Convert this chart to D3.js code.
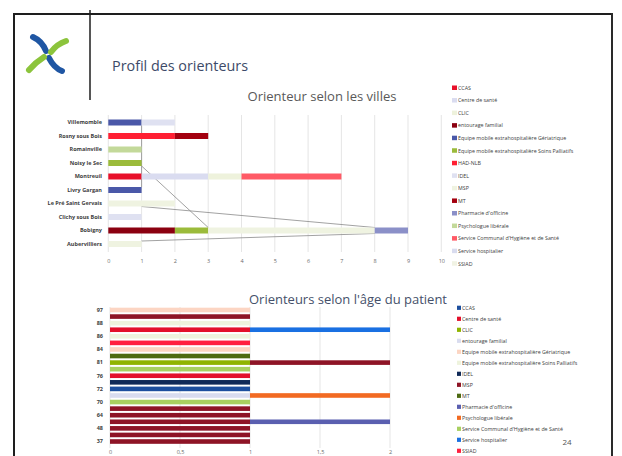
<!DOCTYPE html>
<html><head><meta charset="utf-8">
<script src="https://cdn.jsdelivr.net/npm/d3@7"></script>
<style>body{margin:0;background:#fff}svg{display:block}text{font-family:"Open Sans","Noto Sans",sans-serif}</style>
</head><body><svg id="c" width="622" height="456"></svg>
<script>
// ---------- DATA ----------
const pageTitle = "Profil des orienteurs";
const title1 = "Orienteur selon les villes";
const title2 = "Orienteurs selon l'âge du patient";
const pageNumber = "24";

const cities = ["Villemomble","Rosny sous Bois","Romainville","Noisy le Sec","Montreuil","Livry Gargan","Le Pré Saint Gervais","Clichy sous Bois","Bobigny","Aubervilliers"];
const series1 = ["CCAS","Centre de santé","CLIC","entourage familial","Equipe mobile extrahospitalière Gériatrique","Equipe mobile extrahospitalière Soins Palliatifs","HAD-NLB","IDEL","MSP","MT","Pharmacie d'officine","Psychologue libérale","Service Communal d'Hygiène et de Santé","Service hospitalier","SSIAD"];
const colors1 = ["#e8102a","#dadcf0","#eef2dc","#8b0010","#4a58a8","#9bbb3b","#ff1f33","#dfe1f1","#eff3e1","#a3000f","#8b90c8","#c3d99a","#ff5a66","#d9dcef","#f1f3e4"];
// values per series, in city order (top to bottom)
const vCCAS1      = [0,0,0,0,1,0,0,0,0,0];
const vCentre1    = [0,0,0,0,2,0,0,0,0,0];
const vCLIC1      = [0,0,0,0,1,0,0,0,0,0];
const vEntourage1 = [0,0,0,0,0,0,0,0,2,0];
const vEMG1       = [1,0,0,0,0,1,0,0,0,0];
const vEMSP1      = [0,0,0,1,0,0,0,0,1,0];
const vHAD1       = [0,2,0,0,0,0,0,0,0,0];
const vIDEL1      = [1,0,0,0,0,0,0,1,0,0];
const vMSP1       = [0,0,0,0,0,0,2,0,5,1];
const vMT1        = [0,1,0,0,0,0,0,0,0,0];
const vPharma1    = [0,0,0,0,0,0,0,0,1,0];
const vPsy1       = [0,0,1,0,0,0,0,0,0,0];
const vSCHS1      = [0,0,0,0,3,0,0,0,0,0];
const vHosp1      = [0,0,0,0,0,0,0,0,0,0];
const vSSIAD1     = [0,0,0,0,0,0,0,0,0,0];
const values1 = [vCCAS1,vCentre1,vCLIC1,vEntourage1,vEMG1,vEMSP1,vHAD1,vIDEL1,vMSP1,vMT1,vPharma1,vPsy1,vSCHS1,vHosp1,vSSIAD1];
const ticks1 = [0,1,2,3,4,5,6,7,8,9,10];
// series lines seen on the chart: [from city, value, to city, value]
const seriesLines1 = [
  ["Aubervilliers",1,"Bobigny",8],
  ["Bobigny",3,"Noisy le Sec",1],
  ["Bobigny",8,"Le Pré Saint Gervais",1],
  ["Livry Gargan",1,"Villemomble",1]
];

const ages = ["97","92","88","87","86","85","84","83","81","79","76","74","72","71","70","68","64","55","48","42","37"];
const agesLabelled = ["97","88","86","84","81","76","72","70","64","48","37"];
const series2 = ["CCAS","Centre de santé","CLIC","entourage familial","Equipe mobile extrahospitalière Gériatrique","Equipe mobile extrahospitalière Soins Palliatifs","IDEL","MSP","MT","Pharmacie d'officine","Psychologue libérale","Service Communal d'Hygiène et de Santé","Service hospitalier","SSIAD"];
const colors2 = ["#1d4f9e","#e3102b","#8fb400","#d9dcef","#fcd5c3","#eef3dd","#102a58","#8e1426","#4d6a12","#5a5fb0","#f26a22","#a8d060","#1a70e2","#ff2040"];
// values per series, in age order (top to bottom)
const vCCAS2      = [0,0,0,0,0,0,0,0,0,0,0,0,1,0,0,0,0,0,0,0,0];
const vCentre2    = [0,0,0,1,0,0,0,0,0,0,1,0,0,0,0,0,0,0,0,0,0];
const vCLIC2      = [0,0,0,0,0,0,0,0,1,0,0,0,0,0,0,0,0,0,0,0,0];
const vEntourage2 = [0,0,0,0,0,0,0,0,0,0,0,0,0,1,0,0,0,0,0,0,0];
const vEMG2       = [1,0,0,0,0,0,1,0,0,0,0,0,0,0,0,0,0,0,0,0,0];
const vEMSP2      = [0,0,1,0,1,0,0,0,0,0,0,0,0,0,0,0,0,0,0,0,0];
const vIDEL2      = [0,0,0,0,0,0,0,0,0,0,0,1,0,0,0,0,0,0,0,0,0];
const vMSP2       = [0,1,0,0,0,0,0,0,1,0,0,0,0,0,0,1,1,1,1,1,1];
const vMT2        = [0,0,0,0,0,0,0,1,0,0,0,0,0,0,0,0,0,0,0,0,0];
const vPharma2    = [0,0,0,0,0,0,0,0,0,0,0,0,0,0,0,0,0,1,0,0,0];
const vPsy2       = [0,0,0,0,0,0,0,0,0,0,0,0,0,1,0,0,0,0,0,0,0];
const vSCHS2      = [0,0,0,0,0,0,0,0,0,1,0,0,0,0,1,0,0,0,0,0,0];
const vHosp2      = [0,0,0,1,0,0,0,0,0,0,0,0,0,0,0,0,0,0,0,0,0];
const vSSIAD2     = [0,0,0,0,0,1,0,0,0,0,0,0,0,0,0,0,0,0,0,0,0];
const values2 = [vCCAS2,vCentre2,vCLIC2,vEntourage2,vEMG2,vEMSP2,vIDEL2,vMSP2,vMT2,vPharma2,vPsy2,vSCHS2,vHosp2,vSSIAD2];
const ticks2 = [0,0.5,1,1.5,2];

// ---------- DRAW ----------
const svg = d3.select("#c");
const frFmt = d3.formatLocale({decimal:",",thousands:" ",grouping:[3],currency:["","€"]}).format("~g");

// frame
svg.append("line").attr("x1",14).attr("x2",613).attr("y1",14).attr("y2",14).attr("stroke","#1e1e1e").attr("stroke-width",2);
svg.append("line").attr("x1",14).attr("x2",14).attr("y1",13).attr("y2",456).attr("stroke","#1e1e1e").attr("stroke-width",2);
svg.append("line").attr("x1",612).attr("x2",612).attr("y1",13).attr("y2",456).attr("stroke","#2a2a2a").attr("stroke-width",2);
svg.append("line").attr("x1",90).attr("x2",90).attr("y1",10).attr("y2",100).attr("stroke","#1e1e1e").attr("stroke-width",1.5);

// logo
const logo = svg.append("g").attr("stroke-linecap","round").attr("fill","none");
logo.append("path").attr("d","M33,37 Q42,41 46,51").attr("stroke","#1f56a3").attr("stroke-width",6);
logo.append("path").attr("d","M49,58 Q54,68 62,71").attr("stroke","#1f56a3").attr("stroke-width",6);
logo.append("path").attr("d","M66,41 Q57,44 51,52").attr("stroke","#8cc43c").attr("stroke-width",6);
logo.append("path").attr("d","M44,57 Q36,62 29,70").attr("stroke","#8cc43c").attr("stroke-width",6);

svg.append("text").attr("x",112).attr("y",71).attr("font-size",14).attr("fill","#3d4a68")
  .attr("textLength",136).attr("lengthAdjust","spacingAndGlyphs").text(pageTitle);

// ---------- Chart 1 ----------
const x1 = d3.scaleLinear().domain([0,10]).range([108.3,441.3]);
const y1 = d3.scaleBand().domain(cities).range([115.75,250.75]);
const bh1 = 6;
svg.append("text").attr("x",322).attr("y",101).attr("text-anchor","middle").attr("font-size",13).attr("fill","#595959")
  .attr("textLength",149).attr("lengthAdjust","spacingAndGlyphs").text(title1);

svg.append("g").selectAll("line").data(ticks1).join("line")
  .attr("x1",d=>x1(d)).attr("x2",d=>x1(d)).attr("y1",115).attr("y2",252).attr("stroke","#dedede").attr("stroke-width",0.8);

const yc1 = c => y1(c)+y1.bandwidth()/2;
svg.append("g").selectAll("line").data(seriesLines1).join("line")
  .attr("x1",d=>x1(d[1])).attr("x2",d=>x1(d[3]))
  .attr("y1",d=>yc1(d[0]) + (yc1(d[0])>yc1(d[2])? -bh1/2 : bh1/2))
  .attr("y2",d=>yc1(d[2]) + (yc1(d[0])>yc1(d[2])? bh1/2 : -bh1/2))
  .attr("stroke","#8a8a8a").attr("stroke-width",0.8);

const rows1 = cities.map((c,i)=>{const o={city:c}; series1.forEach((s,k)=>o[s]=values1[k][i]); return o;});
const stack1 = d3.stack().keys(series1)(rows1);
svg.append("g").selectAll("g").data(stack1).join("g").attr("fill",(d,i)=>colors1[i])
  .selectAll("rect").data(d=>d.filter(p=>p[1]>p[0])).join("rect")
  .attr("x",p=>x1(p[0])).attr("width",p=>x1(p[1])-x1(p[0]))
  .attr("y",p=>y1(p.data.city)+(y1.bandwidth()-bh1)/2).attr("height",bh1);

const ax1 = svg.append("g").attr("transform","translate(0,256)")
  .call(d3.axisBottom(x1).tickValues(ticks1).tickSize(0).tickPadding(3).tickFormat(frFmt));
ax1.select(".domain").remove();
ax1.selectAll("text").attr("font-size",5.5).attr("fill","#6a6a6a").attr("font-family","Open Sans");
const ay1 = svg.append("g").attr("transform","translate(104,0)")
  .call(d3.axisLeft(y1).tickSize(0).tickPadding(2));
ay1.select(".domain").remove();
ay1.selectAll("text").attr("font-size",5.5).attr("fill","#404040").attr("font-weight","bold").attr("font-family","Open Sans");

const lg1 = svg.append("g").selectAll("g").data(series1).join("g")
  .attr("transform",(d,i)=>`translate(452,${88+i*12.55})`);
lg1.append("rect").attr("x",0).attr("y",-2.5).attr("width",5).attr("height",4.5).attr("fill",(d,i)=>colors1[i]);
lg1.append("text").attr("x",6).attr("y",1.8).attr("font-size",5.3).attr("fill","#404040").text(d=>d);

// ---------- Chart 2 ----------
const x2 = d3.scaleLinear().domain([0,2]).range([110,390]);
const y2 = d3.scaleBand().domain(ages).range([306.7,444.8]);
const bh2 = 4.6;
svg.append("text").attr("x",348).attr("y",304).attr("text-anchor","middle").attr("font-size",13).attr("fill","#45506a")
  .attr("textLength",198).attr("lengthAdjust","spacingAndGlyphs").text(title2);

svg.append("g").selectAll("line").data(ticks2).join("line")
  .attr("x1",d=>x2(d)).attr("x2",d=>x2(d)).attr("y1",307).attr("y2",448).attr("stroke","#dedede").attr("stroke-width",0.8);

const rows2 = ages.map((a,i)=>{const o={age:a}; series2.forEach((s,k)=>o[s]=values2[k][i]); return o;});
const stack2 = d3.stack().keys(series2)(rows2);
svg.append("g").selectAll("g").data(stack2).join("g").attr("fill",(d,i)=>colors2[i])
  .selectAll("rect").data(d=>d.filter(p=>p[1]>p[0])).join("rect")
  .attr("x",p=>x2(p[0])).attr("width",p=>x2(p[1])-x2(p[0]))
  .attr("y",p=>y2(p.data.age)+(y2.bandwidth()-bh2)/2).attr("height",bh2);

const ax2 = svg.append("g").attr("transform","translate(0,447)")
  .call(d3.axisBottom(x2).tickValues(ticks2).tickSize(0).tickPadding(3).tickFormat(frFmt));
ax2.select(".domain").remove();
ax2.selectAll("text").attr("font-size",5.5).attr("fill","#6a6a6a").attr("font-family","Open Sans");
const ay2 = svg.append("g").attr("transform","translate(105,0)")
  .call(d3.axisLeft(y2).tickValues(agesLabelled).tickSize(0).tickPadding(2));
ay2.select(".domain").remove();
ay2.selectAll("text").attr("font-size",5.5).attr("fill","#404040").attr("font-weight","bold").attr("font-family","Open Sans");

const lg2 = svg.append("g").selectAll("g").data(series2).join("g")
  .attr("transform",(d,i)=>`translate(457,${308+i*11})`);
lg2.append("rect").attr("x",0).attr("y",-2.3).attr("width",4).attr("height",4.2).attr("fill",(d,i)=>colors2[i]);
lg2.append("text").attr("x",5).attr("y",1.8).attr("font-size",5.3).attr("fill","#404040").text(d=>d);

svg.append("text").attr("x",567).attr("y",445).attr("text-anchor","middle").attr("font-size",8).attr("fill","#555").text(pageNumber);
</script></body></html>
